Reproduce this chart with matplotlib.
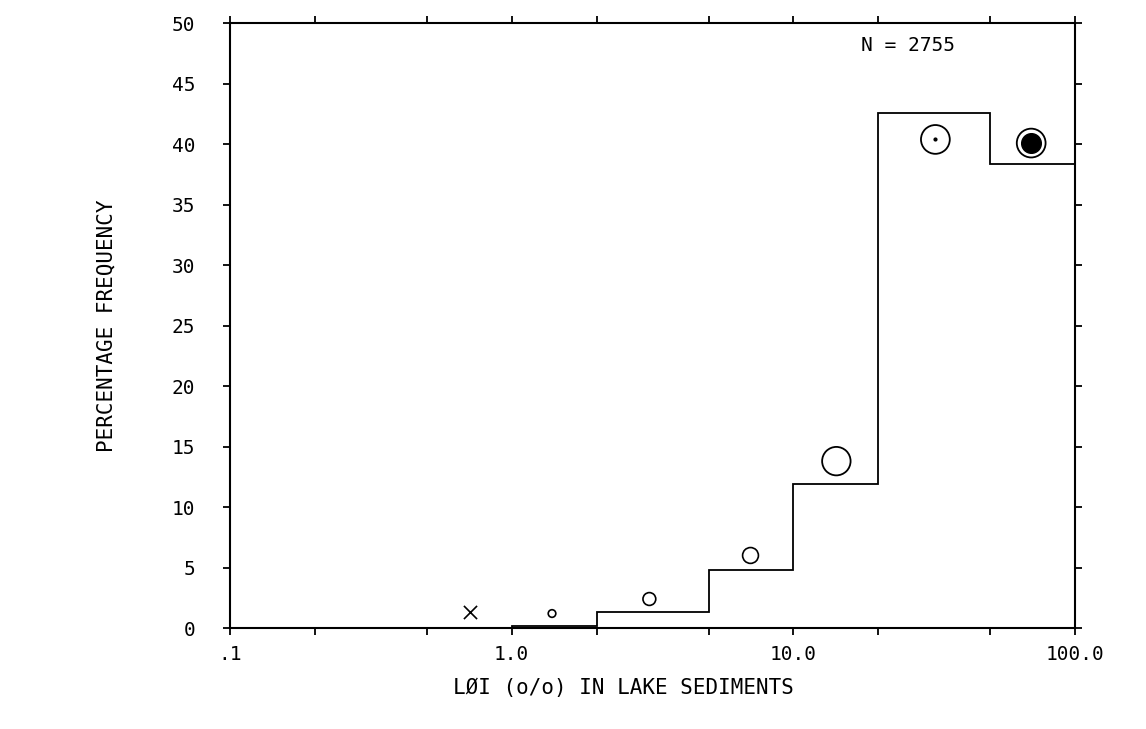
import matplotlib
matplotlib.use("Agg")
import matplotlib.pyplot as plt

# histogram of LOI classes (percent of samples)
bin_edges = [1, 2, 5, 10, 20, 50, 100]
freq = [0.2, 1.3, 4.8, 11.9, 42.6, 38.4]

# class symbols, plotted at the middle of each class
sym_x = [0.71, 1.39, 3.08, 7.04, 14.2, 31.9, 69.8]
sym_y = [1.3, 1.2, 2.4, 6.0, 13.8, 40.4, 40.1]

xticks = [0.1, 1, 10, 100]
xtick_labels = [".1", "1.0", "10.0", "100.0"]
minor_xticks = [0.2, 0.5, 2, 5, 20, 50]
yticks = list(range(0, 55, 5))

plt.rcParams["font.family"] = "DejaVu Sans Mono"

fig = plt.figure(figsize=(11.46, 7.29), dpi=100)
ax = fig.add_axes([0.2007, 0.1385, 0.7375, 0.8295])

ax.stairs(freq, bin_edges, baseline=0, fill=False, color="black", linewidth=1.3)

# symbols
ax.scatter(sym_x[0], sym_y[0], marker="x", s=90, color="black", linewidths=1.2, zorder=3)
ax.scatter(sym_x[1], sym_y[1], marker="o", s=30, facecolors="none", edgecolors="black", linewidths=1.2, zorder=3)
ax.scatter(sym_x[2], sym_y[2], marker="o", s=85, facecolors="none", edgecolors="black", linewidths=1.2, zorder=3)
ax.scatter(sym_x[3], sym_y[3], marker="o", s=130, facecolors="none", edgecolors="black", linewidths=1.2, zorder=3)
ax.scatter(sym_x[4], sym_y[4], marker="o", s=420, facecolors="none", edgecolors="black", linewidths=1.3, zorder=3)
ax.scatter(sym_x[5], sym_y[5], marker="o", s=430, facecolors="none", edgecolors="black", linewidths=1.3, zorder=3)
ax.scatter(sym_x[5], sym_y[5], marker="o", s=4, color="black", zorder=3)
ax.scatter(sym_x[6], sym_y[6], marker="o", s=430, facecolors="none", edgecolors="black", linewidths=1.3, zorder=3)
ax.scatter(sym_x[6], sym_y[6], marker="o", s=200, color="black", zorder=3)

ax.set_xscale("log")
ax.set_xlim(0.1, 100)
ax.set_ylim(0, 50)

ax.set_xticks(xticks)
ax.set_xticklabels(xtick_labels)
ax.set_xticks(minor_xticks, minor=True)
ax.xaxis.set_minor_formatter(matplotlib.ticker.NullFormatter())
ax.set_yticks(yticks)

ax.tick_params(axis="both", which="both", direction="out", length=5, width=1.3,
               top=True, right=True, labelsize=14)
ax.tick_params(axis="y", pad=20)
ax.tick_params(axis="x", pad=7)

for sp in ax.spines.values():
    sp.set_linewidth(1.5)

ax.set_xlabel("LØI (o/o) IN LAKE SEDIMENTS", fontsize=15, labelpad=10, x=0.465)
ax.set_ylabel("PERCENTAGE FREQUENCY", fontsize=15, labelpad=40)

ax.text(0.802, 0.964, "N = 2755", transform=ax.transAxes, fontsize=14, ha="center", va="center")

fig.savefig("out.png", dpi=100)
